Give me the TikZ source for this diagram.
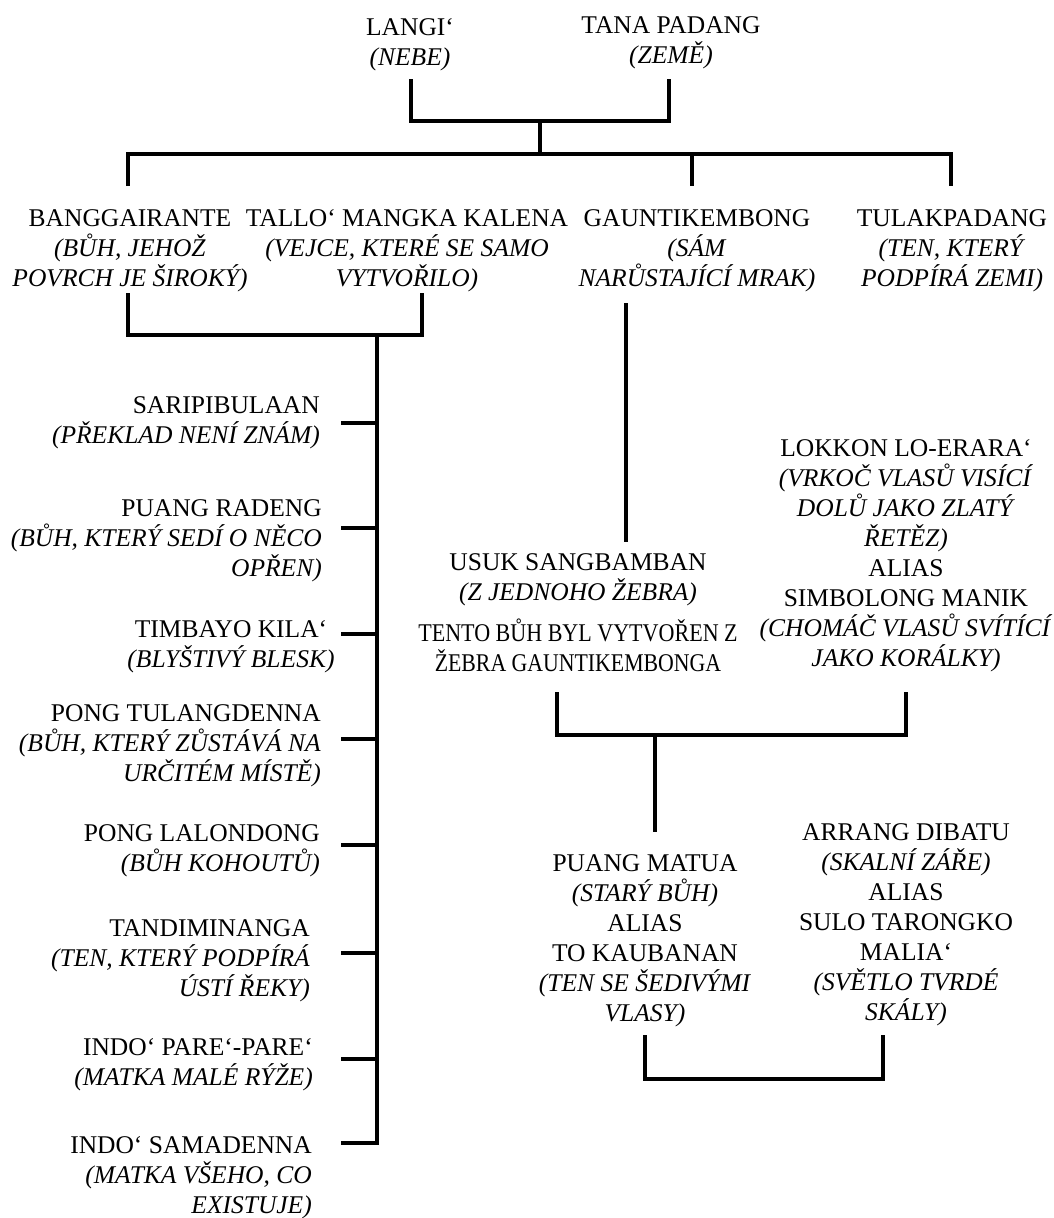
\documentclass[tikz,border=0pt]{standalone}
\usepackage{graphicx}
\usepackage{fontspec}
\setmainfont{Liberation Serif}
\begin{document}
\begin{tikzpicture}[x=1pt,y=-1pt,
  lbl/.style={inner sep=0pt, align=center, font=\fontsize{25.5}{30}\selectfont, anchor=base},
  lblr/.style={lbl, align=right, anchor=base east},
  conn/.style={line width=3.8pt, line cap=butt, line join=miter}]
\useasboundingbox[fill=white] (0,0) rectangle (1054,1218);
% (node y values are the baseline of the LAST line of each node)

% ---------- top ----------
\node[lbl] (langi) at (410,65) {LANGI‘\\\textit{(NEBE)}};
\node[lbl] (tana) at (671,63) {TANA PADANG\\\textit{(ZEMĚ)}};

% ---------- second row ----------
\node[lbl] (bang) at (130,286) {BANGGAIRANTE\\\textit{(BŮH, JEHOŽ}\\\textit{POVRCH JE ŠIROKÝ)}};
\node[lbl] (tallo) at (407,286) {TALLO‘ MANGKA KALENA\\\textit{(VEJCE, KTERÉ SE SAMO}\\\textit{VYTVOŘILO)}};
\node[lbl] (gaunt) at (697,286) {GAUNTIKEMBONG\\\textit{(SÁM}\\\textit{NARŮSTAJÍCÍ MRAK)}};
\node[lbl] (tulak) at (952,286) {TULAKPADANG\\\textit{(TEN, KTERÝ}\\\textit{PODPÍRÁ ZEMI)}};

% ---------- left column ----------
\node[lblr] (sari) at (320,443) {SARIPIBULAAN\\\textit{(PŘEKLAD NENÍ ZNÁM)}};
\node[lblr] (radeng) at (322,576) {PUANG RADENG\\\textit{(BŮH, KTERÝ SEDÍ O NĚCO}\\\textit{OPŘEN)}};
\node[lbl] (timbayo) at (231,667) {TIMBAYO KILA‘\\\textit{(BLYŠTIVÝ BLESK)}};
\node[lblr] (tulang) at (321,781) {PONG TULANGDENNA\\\textit{(BŮH, KTERÝ ZŮSTÁVÁ NA}\\\textit{URČITÉM MÍSTĚ)}};
\node[lblr] (lalon) at (320,871) {PONG LALONDONG\\\textit{(BŮH KOHOUTŮ)}};
\node[lblr] (tandi) at (310,996) {TANDIMINANGA\\\textit{(TEN, KTERÝ PODPÍRÁ}\\\textit{ÚSTÍ ŘEKY)}};
\node[lblr] (pare) at (313,1085) {INDO‘ PARE‘-PARE‘\\\textit{(MATKA MALÉ RÝŽE)}};
\node[lblr] (sama) at (312,1213) {INDO‘ SAMADENNA\\\textit{(MATKA VŠEHO, CO}\\\textit{EXISTUJE)}};

% ---------- middle / right ----------
\node[lbl] (usuk) at (578,671) {USUK SANGBAMBAN\\\textit{(Z JEDNOHO ŽEBRA)}\\[11pt]\scalebox{0.865}[1]{TENTO BŮH BYL VYTVOŘEN Z}\\\scalebox{0.855}[1]{ŽEBRA GAUNTIKEMBONGA}};
\node[lbl] (lokkon) at (906,666) {LOKKON LO-ERARA‘\\\textit{(VRKOČ VLASŮ VISÍCÍ}\\\textit{DOLŮ JAKO ZLATÝ}\\\textit{ŘETĚZ)}\\ALIAS\\SIMBOLONG MANIK\\\textit{(CHOMÁČ VLASŮ SVÍTÍCÍ}\\\textit{JAKO KORÁLKY)}};
\node[lbl] (matua) at (645,1021) {PUANG MATUA\\\textit{(STARÝ BŮH)}\\ALIAS\\TO KAUBANAN\\\textit{(TEN SE ŠEDIVÝMI}\\\textit{VLASY)}};
\node[lbl] (arrang) at (906,1020) {ARRANG DIBATU\\\textit{(SKALNÍ ZÁŘE)}\\ALIAS\\SULO TARONGKO\\MALIA‘\\\textit{(SVĚTLO TVRDÉ}\\\textit{SKÁLY)}};

% ---------- connector coordinates ----------
\coordinate (langiB) at (411,79);
\coordinate (tanaB) at (669,79);
\coordinate (topJ) at (540,121);
\coordinate (barJ) at (540,154);
\coordinate (barL) at (128,154);
\coordinate (barR) at (951,154);
\coordinate (bangT) at (128,186);
\coordinate (gauntT) at (692,186);
\coordinate (tulakT) at (951,186);
\coordinate (bangB) at (128,293);
\coordinate (talloB) at (422,293);
\coordinate (trunkT) at (377,335);
\coordinate (trunkB) at (377,1143);
\coordinate (gauntB) at (626,303);
\coordinate (usukT) at (626,542);
\coordinate (usukB) at (557,692);
\coordinate (lokkonB) at (906,692);
\coordinate (midJ) at (655,735);
\coordinate (matuaT) at (655,832);
\coordinate (matuaB) at (645,1035);
\coordinate (arrangB) at (883,1035);

% ---------- connectors ----------
\draw[conn] (langiB) -- (langiB |- topJ) -- (tanaB |- topJ) -- (tanaB);
\draw[conn] (topJ) -- (barJ);
\draw[conn] (bangT) -- (barL) -- (barR) -- (tulakT);
\draw[conn] (gauntT |- barL) -- (gauntT);
\draw[conn] (bangB) -- (bangB |- trunkT) -- (talloB |- trunkT) -- (talloB);
\draw[conn] (trunkT) -- (trunkB) -- ++(-36,0);
\foreach \n/\y in {sari/423, radeng/528, timbayo/634, tulang/739, lalon/845, tandi/953, pare/1059}
  \draw[conn] (341,\y) -- (trunkT |- 0,\y);
\draw[conn] (gauntB) -- (usukT);
\draw[conn] (usukB) -- (usukB |- midJ) -- (lokkonB |- midJ) -- (lokkonB);
\draw[conn] (midJ) -- (matuaT);
\draw[conn] (matuaB) -- (matuaB |- 0,1079) -- (arrangB |- 0,1079) -- (arrangB);
\end{tikzpicture}
\end{document}
